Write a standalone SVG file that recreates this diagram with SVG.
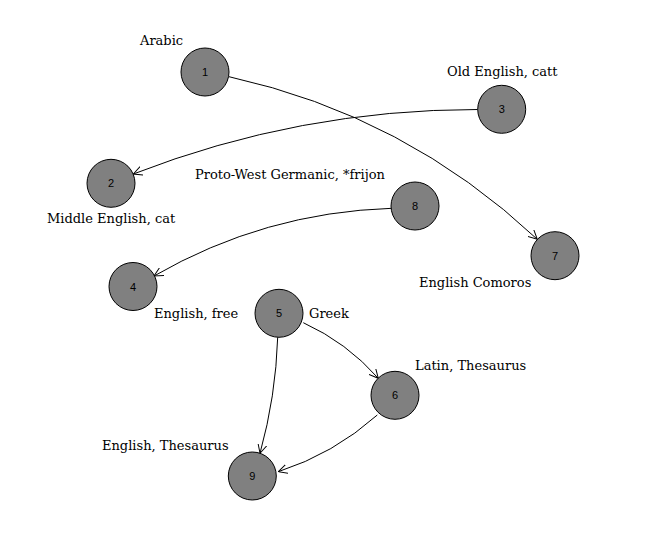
<svg xmlns="http://www.w3.org/2000/svg" width="655" height="551" viewBox="0 0 655 551">
<style>
.node circle{fill:#808080;stroke:#000;stroke-width:1}
.node text{font-family:"Liberation Sans",Arial,sans-serif;font-size:11px;fill:#000;text-anchor:middle}
.lbl{font-family:"DejaVu Serif","Liberation Serif",serif;font-size:13px;fill:#000}
.edge{fill:none;stroke:#000;stroke-width:1;marker-end:url(#arr)}
</style>
<defs>
<marker id="arr" viewBox="0 0 10 10" refX="10" refY="5" markerWidth="9" markerHeight="10" markerUnits="userSpaceOnUse" orient="auto">
<path d="M0,0 L10,5 L0,10" fill="none" stroke="#000" stroke-width="1.1"/>
</marker>
</defs>
<rect width="655" height="551" fill="#fff"/>
<g id="edges">
<path class="edge" d="M229,76.7 Q405.6,115.6 537.3,239.3"/>
<path class="edge" d="M477.7,109.5 Q299.4,109.4 133.3,174"/>
<path class="edge" d="M391.7,208.3 Q264.4,212.4 154,276"/>
<path class="edge" d="M303.3,322.7 Q346.8,342.5 378.3,378.3"/>
<path class="edge" d="M277.7,337.3 Q275.8,396.4 260,453.3"/>
<path class="edge" d="M377.3,415 Q333.8,453.8 278.3,471.7"/>
</g>
<g id="node1" class="node"><circle cx="205" cy="72" r="24"/><text x="205" y="76">1</text></g>
<g id="node2" class="node"><circle cx="111" cy="183.3" r="24"/><text x="111" y="187.3">2</text></g>
<g id="node3" class="node"><circle cx="501.7" cy="109.3" r="24"/><text x="501.7" y="113.3">3</text></g>
<g id="node4" class="node"><circle cx="133" cy="286.5" r="24"/><text x="133" y="290.5">4</text></g>
<g id="node5" class="node"><circle cx="279" cy="313.3" r="24"/><text x="279" y="317.3">5</text></g>
<g id="node6" class="node"><circle cx="395" cy="395.3" r="24"/><text x="395" y="399.3">6</text></g>
<g id="node7" class="node"><circle cx="555" cy="255.7" r="24"/><text x="555" y="259.7">7</text></g>
<g id="node8" class="node"><circle cx="415" cy="206" r="24"/><text x="415" y="210">8</text></g>
<g id="node9" class="node"><circle cx="252.3" cy="476" r="24"/><text x="252.3" y="480">9</text></g>
<g id="labels">
<text class="lbl" x="140" y="45">Arabic</text>
<text class="lbl" x="447" y="76">Old English, catt</text>
<text class="lbl" x="47" y="223">Middle English, cat</text>
<text class="lbl" x="195" y="179">Proto-West Germanic, *frijon</text>
<text class="lbl" x="419" y="287">English Comoros</text>
<text class="lbl" x="154" y="318">English, free</text>
<text class="lbl" x="309" y="318">Greek</text>
<text class="lbl" x="415" y="370">Latin, Thesaurus</text>
<text class="lbl" x="102" y="450">English, Thesaurus</text>
</g>
</svg>
